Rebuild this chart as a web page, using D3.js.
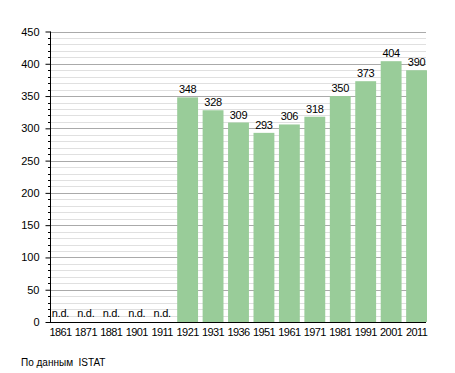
<!DOCTYPE html>
<html><head><meta charset="utf-8">
<script src="https://cdn.jsdelivr.net/npm/d3@7"></script>
<style>body{margin:0;background:#fff}svg{display:block}text{font-family:"Liberation Sans",Arial,sans-serif}</style>
</head><body>
<script>
const years = ["1861","1871","1881","1901","1911","1921","1931","1936","1951","1961","1971","1981","1991","2001","2011"];
const values = [null,null,null,null,null,348,328,309,293,306,318,350,373,404,390];
const yTicks = [0,50,100,150,200,250,300,350,400,450];
const source = "По данным  ISTAT";

const W=455,H=373;
const svg=d3.select("body").append("svg").attr("width",W).attr("height",H);
const x=d3.scaleBand().domain(years).range([50,427]).paddingInner(0.18).paddingOuter(0);
const y=d3.scaleLinear().domain([0,450]).range([322,31.5]);

// minor gridlines
const minor=d3.range(10,450,10).filter(v=>v%50!==0);
svg.append("g").selectAll("line").data(minor).join("line")
 .attr("x1",50).attr("x2",426).attr("y1",d=>Math.round(y(d))+0.5).attr("y2",d=>Math.round(y(d))+0.5)
 .attr("stroke","#e0e0e0").attr("stroke-width",1);
svg.append("g").selectAll("line").data(yTicks.filter(v=>v>0)).join("line")
 .attr("x1",50).attr("x2",426).attr("y1",d=>Math.round(y(d))+0.5).attr("y2",d=>Math.round(y(d))+0.5)
 .attr("stroke","#aaaaaa").attr("stroke-width",1);

// bars
svg.append("g").selectAll("rect").data(years.map((c,i)=>({c,v:values[i]})).filter(d=>d.v!=null)).join("rect")
 .attr("x",d=>x(d.c)).attr("width",x.bandwidth()).attr("y",d=>y(d.v)).attr("height",d=>y(0)-y(d.v))
 .attr("fill","#99cc99");

// value labels
svg.append("g").selectAll("text").data(years.map((c,i)=>({c,v:values[i]}))).join("text")
 .attr("x",d=>x(d.c)+x.bandwidth()/2).attr("y",d=>d.v==null?y(0)-5:y(d.v)-4)
 .attr("text-anchor","middle").attr("font-size",11).attr("letter-spacing",-0.3).attr("fill","#000")
 .text(d=>d.v==null?"n.d.":d.v);

// y axis
const ya=d3.axisLeft(y).tickValues(yTicks).tickSize(5).tickPadding(6);
const gy=svg.append("g").attr("transform","translate(50.5,0)").call(ya);
gy.select(".domain").attr("d",`M0,${y(450)}V${y(0)}`).attr("stroke","#000");
gy.selectAll("text").attr("font-size",11).attr("fill","#000").style("font-family","Liberation Sans, Arial, sans-serif");
gy.selectAll(".tick line").attr("stroke","#000");
svg.append("g").selectAll("line").data(minor).join("line")
 .attr("x1",48).attr("x2",50.5).attr("y1",d=>Math.round(y(d))+0.5).attr("y2",d=>Math.round(y(d))+0.5)
 .attr("stroke","#000");

// x axis
const xa=d3.axisBottom(x).tickSize(0).tickPadding(6);
const gx=svg.append("g").attr("transform",`translate(0,${y(0)+0.5})`).call(xa);
gx.select(".domain").attr("d","M50,0H426").attr("stroke","#000");
gx.selectAll("text").attr("font-size",11).attr("letter-spacing",-0.6).attr("fill","#000").style("font-family","Liberation Sans, Arial, sans-serif");

svg.append("text").attr("x",21).attr("y",366).attr("font-size",10).attr("fill","#000").style("white-space","pre").text(source);
</script>
</body></html>
